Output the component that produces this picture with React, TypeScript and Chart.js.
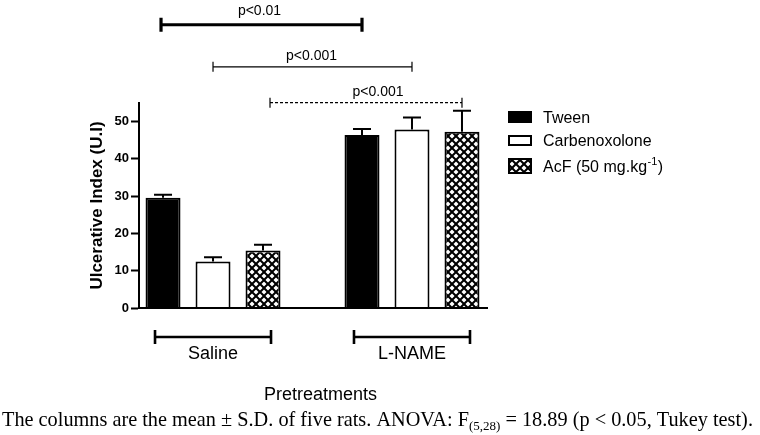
import React, { useEffect, useRef } from 'react';
import { Chart, registerables } from 'chart.js';

Chart.register(...registerables);

// ---------- data ----------
const pretreatments = ['Saline', 'L-NAME'];
const seriesNames = ['Tween', 'Carbenoxolone', 'AcF (50 mg.kg'];
const seriesSup = ['', '', '-1'];
const seriesSuffix = ['', '', ')'];
const tweenMean = [29.6, 46.4];
const tweenSD = [0.8, 1.6];
const carbMean = [12.5, 47.9];
const carbSD = [1.1, 3.2];
const acfMean = [15.4, 47.3];
const acfSD = [1.6, 5.6];
const yTickValues = [0, 10, 20, 30, 40, 50];
const yMax = 55;
const yTitle = 'Ulcerative Index (U.I)';
const xTitle = 'Pretreatments';
// significance brackets: series index compared between groups, level in y units
const bracketSeries = [0, 1, 2];
const bracketLevels = [76, 64.7, 55.1];
const bracketLabels = ['p<0.01', 'p<0.001', 'p<0.001'];
const bracketStyles = ['thick', 'thin', 'dashed'];
const captionA = 'The columns are the mean \u00b1 S.D. of five rats. ANOVA: F';
const captionSub = '(5,28)';
const captionB = ' = 18.89 (p < 0.05, Tukey test).';

const means = [tweenMean, carbMean, acfMean];
const sds = [tweenSD, carbSD, acfSD];

const SANS = '"Liberation Sans", Arial, Helvetica, sans-serif';
const SERIF = '"Liberation Serif", "Times New Roman", serif';

function makePattern(): CanvasPattern | string {
  const c = document.createElement('canvas');
  const s = 8;
  c.width = s;
  c.height = s;
  const g = c.getContext('2d');
  if (!g) return '#888';
  g.fillStyle = '#fff';
  g.fillRect(0, 0, s, s);
  g.strokeStyle = '#000';
  g.lineWidth = 2;
  for (let k = -1; k <= 1; k++) {
    g.beginPath();
    g.moveTo(-2, -2 + k * s);
    g.lineTo(s + 2, s + 2 + k * s);
    g.stroke();
    g.beginPath();
    g.moveTo(s + 2, -2 + k * s);
    g.lineTo(-2, s + 2 + k * s);
    g.stroke();
  }
  const p = g.createPattern(c, 'repeat');
  return p || '#888';
}

export default function App() {
  const ref = useRef<HTMLCanvasElement | null>(null);

  useEffect(() => {
    const canvas = ref.current;
    if (!canvas) return;
    const pattern = makePattern();
    const fills: any[] = ['#000000', '#ffffff', pattern];
    // drawing tweaks for the brackets (pixels)
    const bracketStartShift = [-2, 0, 7];
    const bracketLabelShift = [-2, -1, 12];

    const annotations = {
      id: 'annotations',
      afterDatasetsDraw(chart: any) {
        const ctx = chart.ctx as CanvasRenderingContext2D;
        const ys = chart.scales.y;
        ctx.save();
        ctx.strokeStyle = '#000';
        ctx.lineWidth = 2;
        chart.data.datasets.forEach((_ds: any, di: number) => {
          const meta = chart.getDatasetMeta(di);
          meta.data.forEach((bar: any, i: number) => {
            const p = bar.getProps(['x', 'y'], true);
            const yTop = ys.getPixelForValue(means[di][i] + sds[di][i]);
            ctx.beginPath();
            ctx.moveTo(p.x, p.y);
            ctx.lineTo(p.x, yTop);
            ctx.moveTo(p.x - 9, yTop);
            ctx.lineTo(p.x + 9, yTop);
            ctx.stroke();
          });
        });
        ctx.restore();
      },
      afterDraw(chart: any) {
        const ctx = chart.ctx as CanvasRenderingContext2D;
        const ys = chart.scales.y;
        const xs = chart.scales.x;
        const area = chart.chartArea;
        ctx.save();
        ctx.fillStyle = '#000';
        ctx.strokeStyle = '#000';

        // x axis line
        ctx.lineWidth = 2;
        ctx.beginPath();
        ctx.moveTo(area.left - 1, area.bottom);
        ctx.lineTo(area.right, area.bottom);
        ctx.stroke();

        // significance brackets
        bracketSeries.forEach((si, bi) => {
          const meta = chart.getDatasetMeta(si);
          const x1 = meta.data[0].x + bracketStartShift[bi];
          const x2 = meta.data[1].x;
          const yy = ys.getPixelForValue(bracketLevels[bi]);
          const style = bracketStyles[bi];
          const thick = style === 'thick';
          const cap = thick ? 7 : 5;
          ctx.lineWidth = thick ? 3.2 : 1.2;
          ctx.setLineDash(style === 'dashed' ? [3, 2] : []);
          ctx.beginPath();
          ctx.moveTo(x1, yy);
          ctx.lineTo(x2, yy);
          ctx.stroke();
          ctx.setLineDash([]);
          ctx.beginPath();
          ctx.moveTo(x1, yy - cap);
          ctx.lineTo(x1, yy + cap);
          ctx.moveTo(x2, yy - cap);
          ctx.lineTo(x2, yy + cap);
          ctx.stroke();
          ctx.font = `14px ${SANS}`;
          ctx.textAlign = 'center';
          ctx.textBaseline = 'alphabetic';
          ctx.fillText(bracketLabels[bi], (x1 + x2) / 2 + bracketLabelShift[bi], yy - (thick ? 10 : 6.5));
        });

        // group brackets + labels
        pretreatments.forEach((name, gi) => {
          const xc = xs.getPixelForValue(gi);
          const yy = area.bottom + 29;
          ctx.lineWidth = 2.6;
          ctx.beginPath();
          ctx.moveTo(xc - 58, yy);
          ctx.lineTo(xc + 58, yy);
          ctx.moveTo(xc - 58, yy - 7);
          ctx.lineTo(xc - 58, yy + 7);
          ctx.moveTo(xc + 58, yy - 7);
          ctx.lineTo(xc + 58, yy + 7);
          ctx.stroke();
          ctx.font = `18px ${SANS}`;
          ctx.textAlign = 'center';
          ctx.fillText(name, xc, area.bottom + 51);
        });

        // x title
        ctx.font = `18px ${SANS}`;
        ctx.textAlign = 'center';
        ctx.fillText(xTitle, (area.left + area.right) / 2 + 7, area.bottom + 92);

        // y title
        ctx.save();
        ctx.translate(102, (area.top + area.bottom) / 2);
        ctx.rotate(-Math.PI / 2);
        ctx.font = `bold 17px ${SANS}`;
        ctx.textAlign = 'center';
        ctx.fillText(yTitle, 0, 0);
        ctx.restore();

        // legend
        const lx = area.right + 20;
        const boxTops = [111, 135, 158];
        const boxH = [12, 11, 16];
        const baselines = [123, 146, 172];
        seriesNames.forEach((nm, i) => {
          ctx.fillStyle = fills[i];
          ctx.fillRect(lx, boxTops[i], 24, boxH[i]);
          ctx.lineWidth = 2;
          ctx.strokeStyle = '#000';
          ctx.strokeRect(lx + 1, boxTops[i] + 1, 22, boxH[i] - 2);
          ctx.fillStyle = '#000';
          ctx.textAlign = 'left';
          ctx.font = `16px ${SANS}`;
          let tx = lx + 35;
          ctx.fillText(nm, tx, baselines[i]);
          tx += ctx.measureText(nm).width;
          if (seriesSup[i]) {
            ctx.font = `11px ${SANS}`;
            ctx.fillText(seriesSup[i], tx + 0.5, baselines[i] - 7);
            tx += ctx.measureText(seriesSup[i]).width + 1;
            ctx.font = `16px ${SANS}`;
          }
          if (seriesSuffix[i]) ctx.fillText(seriesSuffix[i], tx, baselines[i]);
        });

        // caption
        ctx.fillStyle = '#000';
        ctx.textAlign = 'left';
        ctx.font = `20.3px ${SERIF}`;
        let cx = 2;
        const cb = 426;
        ctx.fillText(captionA, cx, cb);
        cx += ctx.measureText(captionA).width;
        ctx.font = `13px ${SERIF}`;
        ctx.fillText(captionSub, cx, cb + 4);
        cx += ctx.measureText(captionSub).width;
        ctx.font = `20.3px ${SERIF}`;
        ctx.fillText(captionB, cx, cb);
        ctx.restore();
      },
    };

    const chart = new Chart(canvas, {
      type: 'bar',
      data: {
        datasets: seriesNames.map((nm, di) => ({
          label: nm + seriesSup[di] + seriesSuffix[di],
          data: pretreatments.map((_, gi) => ({ x: gi, y: means[di][gi] })),
          backgroundColor: fills[di],
          borderColor: '#000',
          borderWidth: 2,
          borderSkipped: 'start',
          categoryPercentage: 150 / 199,
          barPercentage: 0.7,
        })),
      },
      options: {
        responsive: false,
        animation: false,
        devicePixelRatio: 1,
        layout: { padding: { left: 0, right: 272, top: 103, bottom: 127 } },
        plugins: { legend: { display: false }, tooltip: { enabled: false } },
        scales: {
          x: {
            type: 'linear',
            display: false,
            offset: false,
            grid: { offset: false },
            min: -0.372,
            max: 1.382,
            afterBuildTicks: (s: any) => {
              s.ticks = pretreatments.map((_, i) => ({ value: i }));
            },
          },
          y: {
            type: 'linear',
            min: 0,
            max: yMax,
            afterBuildTicks: (s: any) => {
              s.ticks = yTickValues.map((v) => ({ value: v }));
            },
            afterFit: (s: any) => {
              s.width = 139;
            },
            ticks: {
              color: '#000',
              font: { family: SANS, size: 13, weight: 'bold' },
              padding: 2,
            },
            grid: {
              display: true,
              drawOnChartArea: false,
              drawTicks: true,
              tickLength: 8,
              tickColor: '#000',
              tickWidth: 2,
            },
            border: { display: true, color: '#000', width: 2 },
          },
        },
      } as any,
      plugins: [annotations],
    });
    return () => chart.destroy();
  }, []);

  return (
    <div style={{ position: 'absolute', left: 0, top: 0, width: 760, height: 435, background: '#fff' }}>
      <canvas ref={ref} width={760} height={435} style={{ display: 'block' }} />
    </div>
  );
}
